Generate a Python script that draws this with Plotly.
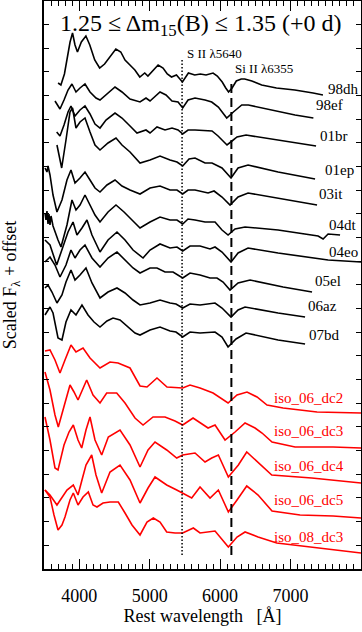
import plotly.graph_objects as go

# ---- data: rest wavelength (Angstrom) and scaled flux + offset (arbitrary units) ----
wl_98dh = [3700, 3740, 3790, 3840, 3870, 3905, 3940, 3975, 4030, 4095, 4150, 4220, 4290, 4360, 4440, 4520, 4590, 4650, 4720, 4790, 4860, 4930, 4975, 5050, 5120, 5190, 5250, 5310, 5380, 5465, 5550, 5640, 5720, 5800, 5900, 5960, 6030, 6080, 6120, 6170, 6230, 6300, 6350, 6450, 6590, 6800, 7060, 7320, 7460]
fx_98dh = [48.6, 48.4, 49.5, 51.4, 52.7, 53.6, 52.4, 51.7, 52.7, 53.3, 52.4, 50.9, 50.1, 50.5, 51.3, 52.0, 51.7, 50.9, 50.4, 49.9, 49.2, 49.6, 49.3, 49.9, 50.4, 50.1, 49.5, 49.2, 49.4, 48.7, 49.6, 49.4, 49.5, 49.4, 49.6, 49.3, 48.7, 48.1, 47.7, 48.1, 48.8, 49.0, 49.0, 48.8, 48.4, 48.1, 47.9, 47.6, 47.4]

wl_98ef = [3656, 3727, 3784, 3841, 3897, 3954, 4011, 4082, 4153, 4238, 4295, 4380, 4508, 4607, 4721, 4863, 4948, 5005, 5147, 5232, 5317, 5403, 5469, 5545, 5644, 5786, 5881, 5975, 6094, 6188, 6307, 6401, 6591, 6875, 7064, 7324]
fx_98ef = [46.8, 46.0, 46.9, 47.9, 48.5, 47.7, 48.1, 48.5, 47.7, 47.1, 46.9, 47.4, 48.2, 47.7, 47.0, 46.7, 47.1, 46.8, 47.7, 47.4, 46.8, 46.7, 46.1, 46.9, 47.1, 46.9, 46.7, 46.2, 45.1, 45.7, 46.4, 46.4, 46.1, 45.7, 45.4, 45.1]

wl_01br = [3680, 3727, 3784, 3841, 3883, 3940, 4011, 4082, 4153, 4224, 4295, 4380, 4508, 4607, 4721, 4820, 4948, 5005, 5104, 5218, 5317, 5403, 5469, 5545, 5644, 5786, 5885, 5971, 6027, 6098, 6169, 6240, 6368, 6638, 6851, 7064, 7362]
fx_01br = [43.7, 43.3, 44.4, 45.7, 46.3, 45.3, 45.9, 46.3, 45.5, 44.5, 44.1, 44.9, 45.6, 45.1, 44.3, 43.6, 43.9, 43.6, 44.2, 43.9, 44.1, 43.9, 43.5, 43.9, 43.9, 43.8, 43.8, 43.3, 42.9, 42.4, 42.8, 43.2, 43.4, 43.1, 42.9, 42.7, 42.3]

wl_01ep = [3684, 3751, 3812, 3869, 3905, 3954, 4011, 4082, 4153, 4224, 4295, 4409, 4522, 4607, 4721, 4863, 5005, 5147, 5289, 5388, 5469, 5559, 5644, 5786, 5885, 6027, 6155, 6255, 6397, 6823, 7348]
fx_01ep = [42.4, 40.1, 42.9, 45.7, 46.1, 44.1, 44.7, 45.1, 43.7, 42.4, 41.9, 42.6, 43.1, 42.4, 41.7, 40.6, 40.9, 41.3, 40.9, 40.7, 40.3, 41.0, 41.1, 40.6, 40.6, 40.1, 39.1, 40.1, 40.4, 39.7, 39.0]

wl_03it = [3514, 3542, 3557, 3585, 3628, 3684, 3755, 3826, 3883, 3940, 4011, 4082, 4153, 4224, 4295, 4394, 4508, 4607, 4721, 4863, 5005, 5147, 5289, 5388, 5469, 5545, 5644, 5829, 5914, 6027, 6141, 6255, 6397, 6823, 7376]
fx_03it = [40.1, 39.7, 40.3, 39.4, 37.4, 35.7, 36.9, 38.9, 39.9, 38.6, 39.1, 39.7, 38.9, 38.1, 37.7, 38.4, 38.9, 38.3, 37.9, 37.5, 38.1, 38.3, 37.9, 37.9, 37.5, 37.9, 37.9, 37.6, 37.8, 37.2, 36.4, 37.2, 37.6, 37.1, 36.4]

wl_04dt = [3514, 3528, 3542, 3557, 3571, 3585, 3600, 3628, 3699, 3741, 3826, 3897, 3954, 4011, 4082, 4153, 4224, 4295, 4409, 4522, 4636, 4749, 4863, 5005, 5147, 5289, 5388, 5469, 5545, 5644, 5786, 5928, 6027, 6113, 6212, 6354, 6823, 7391, 7462, 7533, 7703]
fx_04dt = [35.6, 34.9, 35.8, 34.5, 35.5, 34.4, 35.3, 34.3, 32.9, 32.2, 34.4, 36.9, 35.9, 36.4, 37.4, 36.4, 35.4, 34.7, 35.7, 36.4, 35.7, 34.9, 34.1, 34.7, 35.2, 34.9, 34.9, 34.5, 35.0, 34.9, 34.7, 34.7, 33.9, 33.4, 34.0, 34.2, 33.9, 33.3, 33.0, 33.5, 33.4]

wl_04eo = [3514, 3585, 3680, 3755, 3841, 3912, 3968, 4039, 4110, 4181, 4295, 4409, 4536, 4650, 4764, 4906, 5005, 5147, 5289, 5388, 5469, 5573, 5715, 5857, 5928, 6027, 6155, 6255, 6397, 6823, 7533, 8000]
fx_04eo = [32.9, 32.4, 30.4, 31.9, 33.7, 34.7, 33.4, 34.1, 34.9, 33.4, 31.7, 32.9, 33.7, 32.9, 31.9, 31.1, 31.9, 32.5, 32.1, 32.2, 31.8, 32.3, 32.3, 32.0, 32.2, 31.7, 30.7, 31.6, 32.1, 31.6, 30.9, 30.7]

wl_05el = [3514, 3585, 3656, 3727, 3812, 3883, 3940, 4011, 4082, 4181, 4295, 4409, 4536, 4650, 4764, 4863, 5005, 5104, 5218, 5332, 5469, 5573, 5715, 5857, 5956, 6042, 6141, 6255, 6425, 6894, 7305]
fx_05el = [30.7, 31.2, 30.4, 29.2, 30.4, 31.9, 31.1, 31.9, 32.4, 31.1, 30.2, 31.1, 31.7, 30.9, 30.1, 29.6, 30.1, 30.1, 29.7, 29.7, 29.1, 29.6, 29.4, 29.1, 29.1, 28.7, 27.9, 28.6, 28.9, 28.2, 27.7]

wl_06az = [3514, 3557, 3613, 3684, 3755, 3812, 3883, 3940, 4011, 4096, 4181, 4295, 4409, 4536, 4650, 4764, 4863, 5005, 5147, 5289, 5374, 5469, 5573, 5715, 5928, 6027, 6155, 6255, 6354, 6823, 7206]
fx_06az = [28.1, 28.4, 27.7, 26.6, 27.4, 28.7, 29.9, 28.9, 29.4, 30.1, 28.6, 27.1, 27.7, 28.1, 27.6, 26.9, 26.4, 26.6, 26.9, 26.6, 26.5, 26.1, 26.5, 26.4, 26.6, 26.1, 25.2, 25.9, 26.2, 25.6, 25.2]

wl_07bd = [3514, 3585, 3628, 3699, 3755, 3812, 3883, 3954, 4039, 4125, 4210, 4295, 4394, 4480, 4579, 4693, 4792, 4863, 5005, 5147, 5289, 5374, 5469, 5573, 5715, 5928, 6027, 6113, 6226, 6368, 6823, 7206]
fx_07bd = [25.4, 26.2, 25.6, 23.1, 22.9, 24.7, 25.9, 25.4, 26.4, 25.4, 24.7, 24.2, 24.8, 25.1, 24.9, 24.2, 23.6, 23.4, 23.9, 24.2, 23.8, 23.7, 23.2, 23.7, 23.6, 23.7, 23.2, 22.2, 23.0, 23.6, 22.9, 22.5]

wl_dc2 = [3514, 3585, 3656, 3727, 3798, 3883, 3954, 4054, 4153, 4295, 4437, 4551, 4721, 4863, 4962, 5104, 5246, 5374, 5469, 5573, 5715, 5900, 6000, 6113, 6240, 6382, 6524, 6666, 6894, 7376, 8000]
fx_dc2 = [21.8, 21.9, 20.9, 19.6, 20.9, 22.4, 21.7, 22.1, 21.1, 20.1, 20.7, 20.6, 20.1, 18.3, 18.2, 19.1, 18.2, 18.1, 18.1, 18.4, 18.1, 17.6, 17.1, 16.6, 17.4, 17.7, 17.2, 16.4, 16.1, 15.7, 15.6]

wl_dc3 = [3514, 3585, 3656, 3703, 3770, 3869, 3926, 3983, 4106, 4196, 4295, 4390, 4532, 4650, 4792, 4906, 5048, 5218, 5360, 5469, 5616, 5715, 5829, 5928, 6070, 6212, 6354, 6496, 6595, 6737, 7064, 7604, 8000]
fx_dc3 = [19.7, 17.9, 15.4, 14.2, 15.9, 18.4, 17.7, 16.9, 18.9, 17.4, 16.6, 17.6, 17.6, 16.6, 15.1, 14.4, 15.2, 15.2, 14.8, 14.4, 15.1, 14.6, 14.1, 14.4, 12.9, 13.7, 14.6, 14.1, 13.6, 12.7, 12.2, 12.2, 12.1]

wl_dc4 = [3514, 3585, 3656, 3699, 3784, 3855, 3916, 3983, 4035, 4096, 4153, 4224, 4319, 4413, 4579, 4721, 4863, 4977, 5076, 5242, 5384, 5469, 5644, 5786, 5881, 5975, 6117, 6259, 6378, 6543, 6733, 7301, 8000]
fx_dc4 = [15.2, 12.9, 10.1, 9.9, 12.4, 13.7, 14.4, 12.9, 12.1, 13.9, 15.2, 12.9, 11.4, 13.2, 13.9, 12.4, 10.2, 11.9, 12.7, 11.9, 11.1, 11.4, 11.6, 10.7, 11.1, 11.4, 9.2, 10.4, 11.7, 10.6, 9.4, 9.1, 8.6]

wl_dc5 = [3514, 3585, 3684, 3755, 3826, 3916, 3983, 4039, 4096, 4177, 4238, 4319, 4437, 4579, 4721, 4863, 4977, 5076, 5242, 5384, 5469, 5597, 5715, 5857, 5975, 6117, 6240, 6378, 6539, 6737, 7135, 7604, 8000]
fx_dc5 = [7.9, 7.4, 6.4, 7.1, 7.9, 8.4, 7.4, 8.9, 10.4, 11.4, 9.4, 7.6, 9.7, 10.4, 8.9, 6.6, 8.1, 9.2, 8.4, 7.9, 7.6, 7.1, 8.2, 7.1, 7.9, 5.7, 6.9, 8.3, 7.4, 5.8, 5.4, 5.3, 5.1]

wl_08dc3 = [3514, 3585, 3642, 3699, 3755, 3798, 3869, 3916, 3983, 4054, 4129, 4196, 4252, 4338, 4437, 4555, 4650, 4749, 4863, 4962, 5052, 5147, 5242, 5360, 5469, 5620, 5715, 5829, 5928, 6117, 6240, 6354, 6539, 6804, 7376, 8000]
fx_08dc3 = [7.9, 7.2, 5.4, 3.9, 4.4, 5.2, 6.9, 7.6, 6.4, 7.2, 7.7, 6.4, 6.2, 6.6, 6.7, 6.7, 5.6, 4.4, 3.4, 4.7, 5.1, 4.7, 3.7, 3.6, 3.6, 4.1, 3.6, 3.7, 3.8, 2.2, 3.2, 3.7, 3.2, 2.6, 2.1, 1.6]

names = ["98dh", "98ef", "01br", "01ep", "03it", "04dt", "04eo", "05el", "06az", "07bd",
         "iso_06_dc2", "iso_06_dc3", "iso_06_dc4", "iso_06_dc5", "iso_08_dc3"]
wls = [wl_98dh, wl_98ef, wl_01br, wl_01ep, wl_03it, wl_04dt, wl_04eo, wl_05el, wl_06az, wl_07bd,
       wl_dc2, wl_dc3, wl_dc4, wl_dc5, wl_08dc3]
fxs = [fx_98dh, fx_98ef, fx_01br, fx_01ep, fx_03it, fx_04dt, fx_04eo, fx_05el, fx_06az, fx_07bd,
       fx_dc2, fx_dc3, fx_dc4, fx_dc5, fx_08dc3]
is_model = [False] * 10 + [True] * 5

# label anchor (wavelength of left edge, flux level)
label_wl = [7504, 7334, 7391, 7462, 7376, 7518, 7518, 7320, 7220, 7234, 6737, 6737, 6737, 6737, 6737]
label_fx = [48.0, 46.4, 43.3, 39.9, 37.5, 34.4, 31.7, 28.8, 26.3, 23.4, 17.1, 13.8, 10.3, 6.9, 3.2]

line_s2 = 5460
line_si2 = 6160

FONT = "Liberation Serif, Times New Roman, serif"

fig = go.Figure()
for name, w, f, m in zip(names, wls, fxs, is_model):
    fig.add_trace(go.Scatter(x=w, y=f, mode="lines", name=name, showlegend=False,
                             line=dict(color="#ff0000" if m else "black", width=1.6),
                             hoverinfo="skip"))

# reference lines
fig.add_trace(go.Scatter(x=[line_s2, line_s2], y=[1.4, 51.1], mode="lines", showlegend=False,
                         line=dict(color="black", width=1.5, dash="1.5px,2px"), hoverinfo="skip"))
fig.add_trace(go.Scatter(x=[line_si2, line_si2], y=[1.4, 49.0], mode="lines", showlegend=False,
                         line=dict(color="black", width=2, dash="9px,5px"), hoverinfo="skip"))

annotations = []
for name, lw, lf, m in zip(names, label_wl, label_fx, is_model):
    annotations.append(dict(x=lw, y=lf, text=name, showarrow=False, xanchor="left", yanchor="middle",
                            font=dict(family=FONT, size=15, color="#ff0000" if m else "black")))
annotations.append(dict(x=5502, y=51.6, text="S II λ5640", showarrow=False, xanchor="left",
                        yanchor="middle", font=dict(family=FONT, size=13, color="black")))
annotations.append(dict(x=6184, y=50.05, text="Si II λ6355", showarrow=False, xanchor="left",
                        yanchor="middle", font=dict(family=FONT, size=13, color="black")))
annotations.append(dict(x=5715, y=54.4, text="1.25 ≤ Δm<sub>15</sub>(B) ≤ 1.35 (+0 d)", showarrow=False,
                        xanchor="center", yanchor="middle", font=dict(family=FONT, size=24, color="black")))

fig.update_layout(
    width=362, height=632,
    margin=dict(l=44, r=1, t=1, b=63),
    paper_bgcolor="white", plot_bgcolor="white",
    font=dict(family=FONT, color="black"),
    annotations=annotations,
    xaxis=dict(range=[3500, 8000], tickvals=[4000, 5000, 6000, 7000], ticks="inside", ticklen=10,
               tickwidth=1.2, tickcolor="black", showline=True, linecolor="black", linewidth=1.5,
               mirror="ticks", showgrid=False, zeroline=False, automargin=False,
               minor=dict(dtick=100, ticks="inside", ticklen=5, tickwidth=1.2, tickcolor="black", showgrid=False),
               tickfont=dict(family=FONT, size=18, color="black"), ticklabelstandoff=10,
               title=dict(text="Rest wavelength\u00a0\u00a0\u00a0[Å]", font=dict(family=FONT, size=18, color="black"), standoff=2)),
    yaxis=dict(range=[0, 56.8], tick0=0, dtick=2.367, ticks="inside", ticklen=5, tickwidth=1.2,
               tickcolor="black", showline=True, linecolor="black", linewidth=1.5, mirror="ticks",
               showgrid=False, zeroline=False, showticklabels=False, automargin=False,
               title=dict(text="Scaled F<sub>λ</sub> + offset", font=dict(family=FONT, size=18, color="black"), standoff=22)),
)

fig.write_html("out.html", config={"displayModeBar": False},
               post_script="document.body.style.margin='0';document.body.style.padding='0';")
